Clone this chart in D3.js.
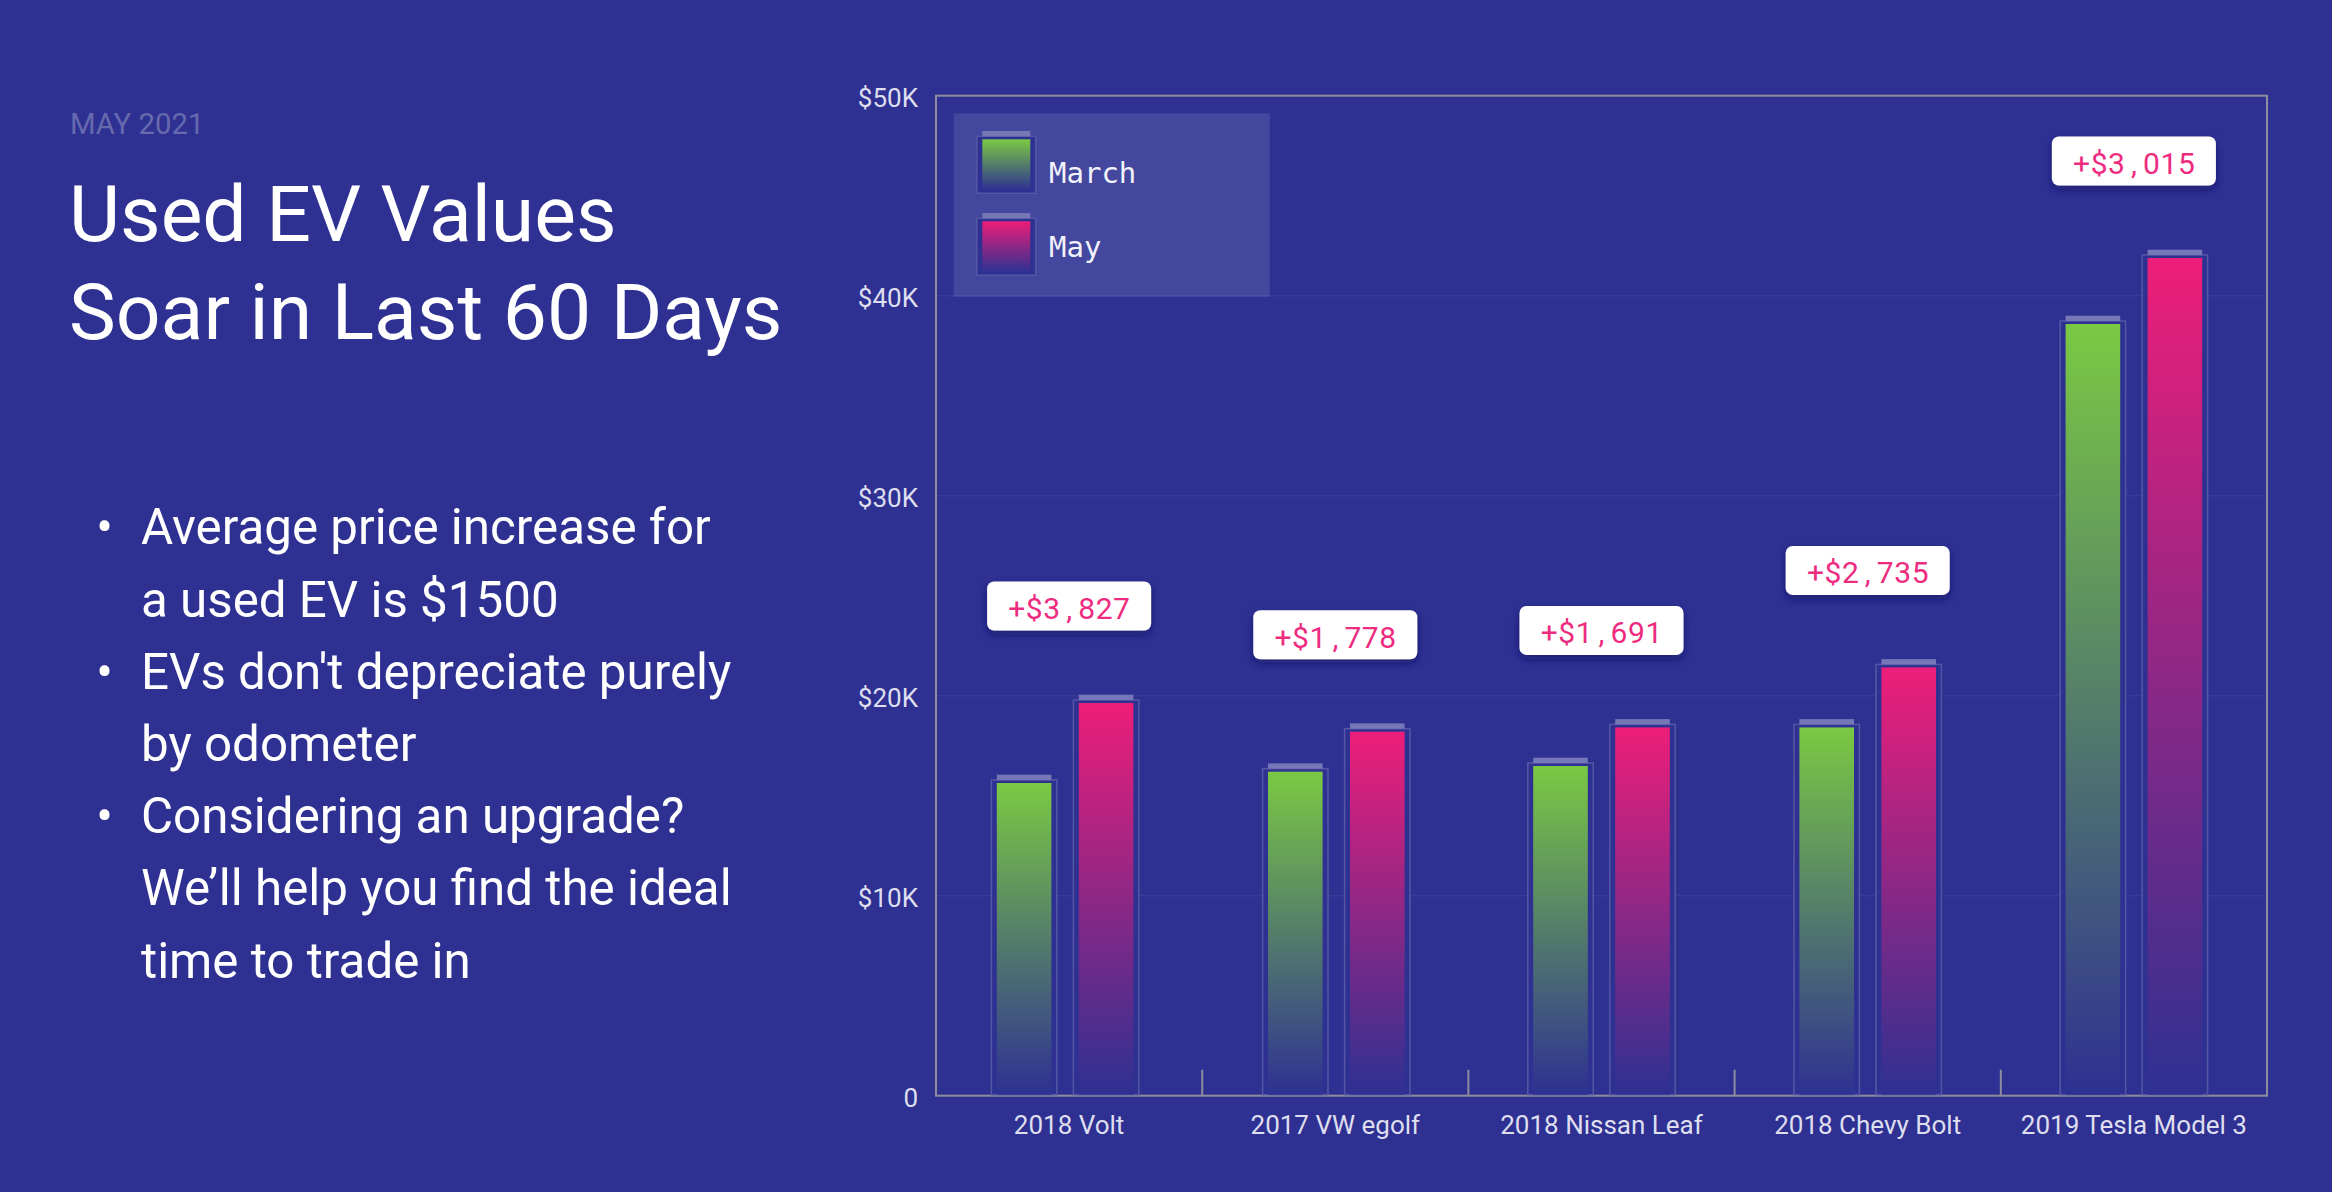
<!DOCTYPE html>
<html>
<head>
<meta charset="utf-8">
<script src="https://cdn.jsdelivr.net/npm/d3@7"></script>
<style>
body { margin: 0; background: #2E3192; }
svg { display: block; }
text { font-family: Roboto, sans-serif; }
</style>
</head>
<body>
<svg id="vis" width="2332" height="1192"></svg>
<script>
const BG_COLOUR = '#2E3192';
const GREEN = '#7AC943';
const PINK = '#ED1E79';
const FRAME_COLOUR = '#8d8d9f';
const TICK_TEXT_COLOUR = '#dedeee';

// data
const cars = ['2018 Volt', '2017 VW egolf', '2018 Nissan Leaf', '2018 Chevy Bolt', '2019 Tesla Model 3'];
const series = ['March', 'May'];
const marchValues = [15635, 16200, 16485, 18415, 38585];
const mayValues = [19635, 18200, 18415, 21415, 41885];
const increases = [3827, 1778, 1691, 2735, 3015];
const yTicks = [0, 10000, 20000, 30000, 40000, 50000];
const yTickLabels = ['0', '$10K', '$20K', '$30K', '$40K', '$50K'];
const bulletLines = [
    ['Average price increase for', 'a used EV is $1500'],
    ["EVs don't depreciate purely", 'by odometer'],
    ['Considering an upgrade?', 'We’ll help you find the ideal', 'time to trade in']
];

// the first two bar pairs sit a little off their band centre in the original
const pairShift = [-4, 1, 0, 0, 0];

var svg = d3.select('#vis');

var x = d3.scaleBand().domain(cars).range([936, 2267]);
var y = d3.scaleLinear().domain([0, 50000]).range([1095.7, 95.7]);
var xPair = d3.scaleBand().domain(series).range([-73.7, 73.7]).paddingInner(0.2024);

var defs = svg.append('defs');

function addGradient(id, colour) {
    var g = defs.append('linearGradient').attr('id', id)
        .attr('x1', 0).attr('y1', 0).attr('x2', 0).attr('y2', 1);
    g.append('stop').attr('offset', 0).attr('stop-color', colour);
    g.append('stop').attr('offset', 1).attr('stop-color', BG_COLOUR);
}
addGradient('grad-March', GREEN);
addGradient('grad-May', PINK);

defs.append('filter').attr('id', 'shadow')
    .attr('x', '-20%').attr('y', '-30%').attr('width', '140%').attr('height', '180%')
    .append('feDropShadow')
    .attr('dx', 0).attr('dy', 4).attr('stdDeviation', 4)
    .attr('flood-color', '#15175e').attr('flood-opacity', 0.6);

// fixed width glyph cells, the original callout font is a mono one
function monoText(parent, str, startX, baseY, cell, fill) {
    var t = parent.append('text').attr('y', baseY).attr('fill', fill)
        .attr('font-size', 30).attr('text-anchor', 'middle');
    str.split('').forEach(function(c, i) {
        t.append('tspan').attr('x', startX + cell * (i + 0.5)).text(c);
    });
    return t;
}

// left column
svg.append('text').attr('x', 70).attr('y', 134).attr('font-size', 29.3)
    .attr('fill', '#6669ae').text('MAY 2021');

var title = svg.append('g').attr('fill', 'white').attr('font-size', 78.7);
title.append('text').attr('x', 69).attr('y', 241).text('Used EV Values');
title.append('text').attr('x', 69).attr('y', 339).text('Soar in Last 60 Days');

var bullets = svg.append('g').attr('fill', 'white').attr('font-size', 49.3);
var lineNo = 0;
bulletLines.forEach(function(lines) {
    bullets.append('text').attr('x', 104.5).attr('y', 544.3 + lineNo * 72.2)
        .attr('text-anchor', 'middle').text('•');
    lines.forEach(function(line) {
        bullets.append('text').attr('x', 141).attr('y', 544.3 + lineNo * 72.2).text(line);
        lineNo++;
    });
});

// gridlines and frame
svg.append('g').selectAll('line').data(yTicks.slice(1, -1)).enter().append('line')
    .attr('x1', x.range()[0]).attr('x2', x.range()[1])
    .attr('y1', function(d) { return y(d); }).attr('y2', function(d) { return y(d); })
    .attr('stroke', '#393b96').attr('stroke-width', 1.5);

svg.append('rect')
    .attr('x', x.range()[0]).attr('y', y.range()[1])
    .attr('width', x.range()[1] - x.range()[0]).attr('height', y.range()[0] - y.range()[1])
    .attr('fill', 'none').attr('stroke', FRAME_COLOUR).attr('stroke-width', 2);

// short separators between the car groups
svg.append('g').selectAll('line').data(cars.slice(1)).enter().append('line')
    .attr('x1', function(d) { return x(d); }).attr('x2', function(d) { return x(d); })
    .attr('y1', y(0) - 26).attr('y2', y(0))
    .attr('stroke', FRAME_COLOUR).attr('stroke-width', 2);

// axes
var yAxis = svg.append('g').attr('transform', 'translate(' + x.range()[0] + ',0)')
    .call(d3.axisLeft(y).tickValues(yTicks).tickSize(0).tickPadding(18)
        .tickFormat(function(d, i) { return yTickLabels[i]; }));
var xAxis = svg.append('g').attr('transform', 'translate(0,' + y(0) + ')')
    .call(d3.axisBottom(x).tickSize(0).tickPadding(20));
[yAxis, xAxis].forEach(function(a) {
    a.select('.domain').remove();
    a.selectAll('text').attr('fill', TICK_TEXT_COLOUR).attr('font-size', 26)
        .style('font-family', 'Roboto, sans-serif');
});
yAxis.selectAll('text').attr('dy', '0.4em');

// bars: frame, cap and gradient fill hang off each value
function drawBar(parent, name, left, width, topY, bottomY, frameBottom) {
    parent.append('rect').attr('x', left).attr('y', topY - 3)
        .attr('width', width).attr('height', frameBottom - topY + 3)
        .attr('fill', BG_COLOUR).attr('stroke', '#5557a4').attr('stroke-width', 1.5);
    parent.append('rect').attr('x', left + 5.4).attr('y', topY - 8.3)
        .attr('width', width - 10.8).attr('height', 5.3)
        .attr('fill', '#7577b6');
    parent.append('rect').attr('x', left + 5.4).attr('y', topY)
        .attr('width', width - 10.8).attr('height', bottomY - topY)
        .attr('fill', 'url(#grad-' + name + ')');
}

var bars = svg.append('g');
cars.forEach(function(car, i) {
    var centre = x(car) + x.bandwidth() / 2;
    [marchValues[i], mayValues[i]].forEach(function(v, s) {
        var name = series[s];
        drawBar(bars, name, centre + pairShift[i] + xPair(name), xPair.bandwidth(), y(v), y(0) - 1, y(0) - 1);
    });
});

// increase callouts float a fixed distance above the May bar
var fmt = d3.format('+$,');
var callouts = svg.append('g');
increases.forEach(function(v, i) {
    var centre = x(cars[i]) + x.bandwidth() / 2;
    var boxBottom = y(mayValues[i]) - 72.5;
    callouts.append('rect')
        .attr('x', centre - 82).attr('y', boxBottom - 49)
        .attr('width', 164).attr('height', 49).attr('rx', 7)
        .attr('fill', 'white').attr('filter', 'url(#shadow)');
    monoText(callouts, fmt(v), centre - 61, boxBottom - 11.5, 17.45, '#ee2c7f');
});

// legend
var legend = svg.append('g');
legend.append('rect').attr('x', 953.7).attr('y', 113.3).attr('width', 316).attr('height', 183.4)
    .attr('fill', 'white').attr('fill-opacity', 0.11);
series.forEach(function(name, i) {
    var top = 139.3 + i * 82;
    drawBar(legend, name, 976.9, 58.8, top, top + 50.7, top + 54);
    legend.append('text').attr('x', 1049).attr('y', 182.7 + i * 74)
        .attr('font-size', 29).style('font-family', '"DejaVu Sans Mono", monospace')
        .attr('fill', '#f2f2fa').text(name);
});
</script>
</body>
</html>
